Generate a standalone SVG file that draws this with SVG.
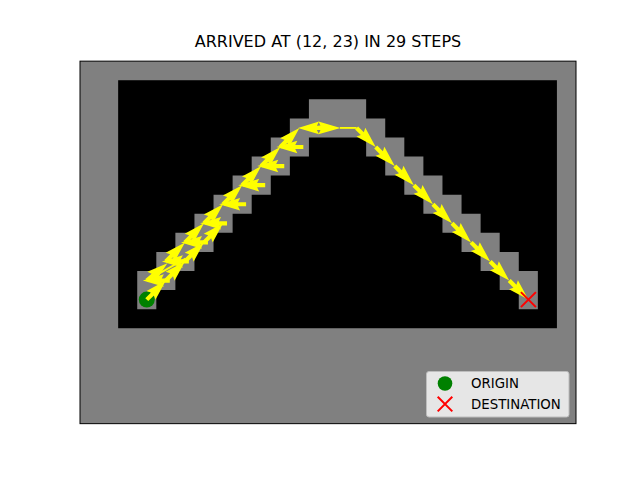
<svg xmlns="http://www.w3.org/2000/svg" xmlns:xlink="http://www.w3.org/1999/xlink" width="640" height="480" viewBox="0 0 640 480">
<style>
.ttl{font-family:"DejaVu Sans","Liberation Sans",sans-serif;font-size:16px;fill:#000}
.lg{font-family:"DejaVu Sans","Liberation Sans",sans-serif;font-size:13.33px;fill:#000}
.arr{fill:#ffff00}
.xm{stroke:#ff0000;stroke-width:2;fill:none}
</style>
<defs>
<path id="ad" d="M0,-2.1 L8.08,-2.1 L5.98,-6.3 L26.98,0 L5.98,6.3 L8.08,2.1 L0,2.1 Z"/>
</defs>
<rect width="640" height="480" fill="#ffffff"/>
<text class="ttl" x="328" y="47" text-anchor="middle">ARRIVED AT (12, 23) IN 29 STEPS</text>
<g id="grid">
<rect x="80" y="61.15" width="496" height="362.5" fill="#808080"/>
<rect x="118.15" y="80.23" width="438.77" height="248" fill="#000000"/>
<path fill="#808080" d="M137.23,309.15 L137.23,271.0 L156.31,271.0 L156.31,251.92 L175.38,251.92 L175.38,232.84 L194.46,232.84 L194.46,213.77 L213.54,213.77 L213.54,194.69 L232.62,194.69 L232.62,175.61 L251.69,175.61 L251.69,156.54 L270.77,156.54 L270.77,137.46 L289.85,137.46 L289.85,118.38 L308.92,118.38 L308.92,99.30 L366.15,99.30 L366.15,118.38 L385.23,118.38 L385.23,137.46 L404.31,137.46 L404.31,156.54 L423.38,156.54 L423.38,175.61 L442.46,175.61 L442.46,194.69 L461.54,194.69 L461.54,213.77 L480.62,213.77 L480.62,232.84 L499.69,232.84 L499.69,251.92 L518.77,251.92 L518.77,271.0 L537.85,271.0 L537.85,309.15 L518.77,309.15 L518.77,290.07 L499.69,290.07 L499.69,271.0 L480.62,271.0 L480.62,251.92 L461.54,251.92 L461.54,232.84 L442.46,232.84 L442.46,213.77 L423.38,213.77 L423.38,194.69 L404.31,194.69 L404.31,175.61 L385.23,175.61 L385.23,156.54 L366.15,156.54 L366.15,137.46 L308.92,137.46 L308.92,156.54 L289.85,156.54 L289.85,175.61 L270.77,175.61 L270.77,194.69 L251.69,194.69 L251.69,213.77 L232.62,213.77 L232.62,232.84 L213.54,232.84 L213.54,251.92 L194.46,251.92 L194.46,271.0 L175.38,271.0 L175.38,290.07 L156.31,290.07 L156.31,309.15 Z"/>
</g>
<g id="origin"><circle cx="146.77" cy="299.61" r="8" fill="#008000"/></g>
<g id="connectors" class="arr">
<use href="#ad" transform="translate(146.77,299.61) rotate(-45)"/>
<use href="#ad" transform="translate(165.85,280.54) rotate(-45)"/>
<use href="#ad" transform="translate(184.92,261.46) rotate(-45)"/>
<use href="#ad" transform="translate(204.0,242.38) rotate(-45)"/>
<path d="M146.77,280.54 L185.5,258.5" stroke="#ffff00" stroke-width="2"/>
<use href="#ad" transform="translate(146.77,280.54) rotate(-40)"/>
<use href="#ad" transform="translate(165.85,261.46) rotate(-45)"/>
<use href="#ad" transform="translate(184.92,242.38) rotate(-45)"/>
<use href="#ad" transform="translate(204.0,223.3) rotate(-45)"/>
<use href="#ad" transform="translate(223.08,204.23) rotate(-45)"/>
<use href="#ad" transform="translate(242.15,185.15) rotate(-45)"/>
<use href="#ad" transform="translate(261.23,166.07) rotate(-45)"/>
<use href="#ad" transform="translate(280.31,147.0) rotate(-45)"/>
<use href="#ad" transform="translate(303.33,147.0) rotate(180)"/>
<use href="#ad" transform="translate(284.26,166.07) rotate(180)"/>
<use href="#ad" transform="translate(265.18,185.15) rotate(180)"/>
<use href="#ad" transform="translate(246.1,204.23) rotate(180)"/>
<use href="#ad" transform="translate(227.03,223.3) rotate(180)"/>
<use href="#ad" transform="translate(207.95,242.38) rotate(180)"/>
<use href="#ad" transform="translate(188.87,261.46) rotate(180)"/>
<use href="#ad" transform="translate(169.8,280.54) rotate(180)"/>
<use href="#ad" transform="translate(324.98,127.92) rotate(180)"/>
<path d="M318.46,125.82 L320.5,125.82 L318.46,121.62 L340.5,127.92 L318.46,134.22 L320.5,130.02 L318.46,130.02 Z"/>
<rect x="340" y="127.02" width="16.62" height="1.8"/>
<use href="#ad" transform="translate(356.62,127.92) rotate(45)"/>
<use href="#ad" transform="translate(375.69,147.0) rotate(45)"/>
<use href="#ad" transform="translate(394.77,166.07) rotate(45)"/>
<use href="#ad" transform="translate(413.85,185.15) rotate(45)"/>
<use href="#ad" transform="translate(432.92,204.23) rotate(45)"/>
<use href="#ad" transform="translate(452.0,223.3) rotate(45)"/>
<use href="#ad" transform="translate(471.08,242.38) rotate(45)"/>
<use href="#ad" transform="translate(490.15,261.46) rotate(45)"/>
<use href="#ad" transform="translate(509.23,280.54) rotate(45)"/>
</g>
<g id="destination"><path class="xm" d="M520.9,292.1 L535.9,307.1 M520.9,307.1 L535.9,292.1"/></g>
<rect x="80" y="61.15" width="496" height="362.5" fill="none" stroke="#000" stroke-width="1"/>
<g id="legend">
<rect x="426.5" y="371.5" width="142.5" height="45.5" rx="2.5" fill="#e6e6e6" stroke="#bdbdbd" stroke-width="1"/>
<circle cx="445" cy="383.5" r="7.3" fill="#008000"/>
<path class="xm" d="M437.7,396.8 L452.3,411.4 M437.7,411.4 L452.3,396.8"/>
<text class="lg" x="471" y="388">ORIGIN</text>
<text class="lg" x="471" y="409">DESTINATION</text>
</g>
</svg>
